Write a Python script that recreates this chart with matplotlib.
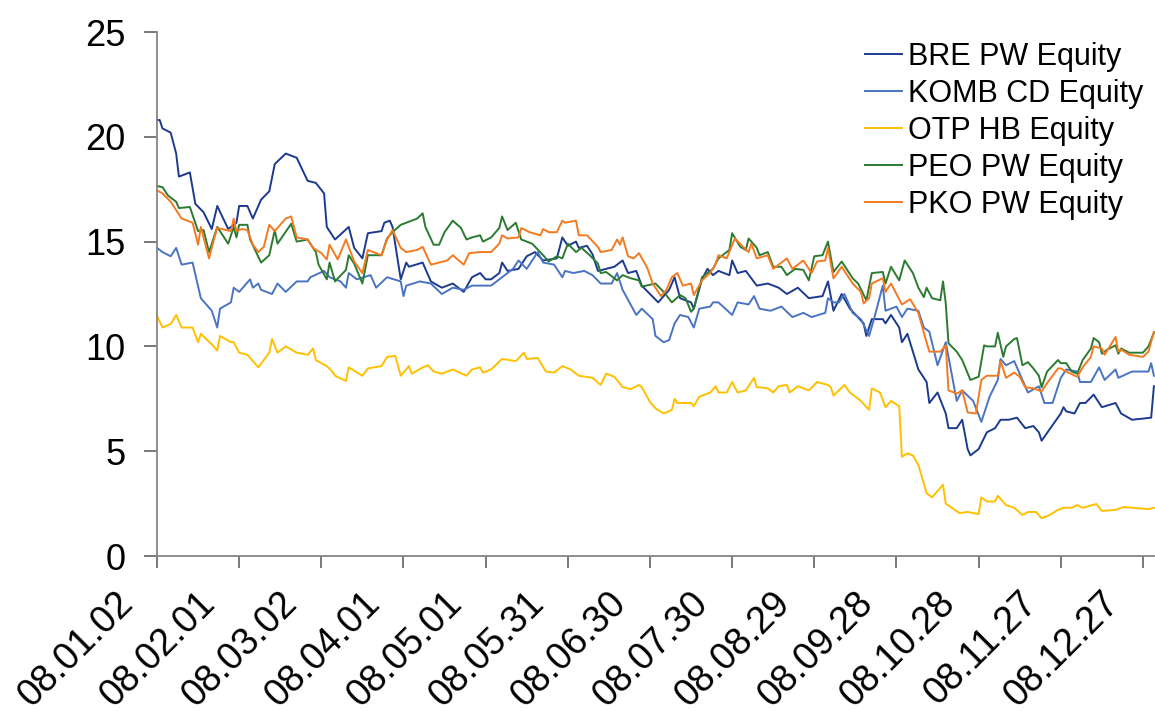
import matplotlib
matplotlib.use('Agg')
import matplotlib.pyplot as plt
import matplotlib.transforms as mtransforms

plt.rcParams['font.family'] = ['Liberation Sans', 'DejaVu Sans']

# 日数 (2008-01-02 からの経過日数) と値
bre_days = [0, 1, 2, 5, 7, 8, 12, 14, 17, 20, 22, 26, 29, 30, 33, 35, 38, 41, 43, 47,
            51, 55, 58, 61, 62, 65, 70, 72, 75, 77, 82, 83, 85, 86, 89, 91, 92, 97, 100, 104,
            108, 112, 115, 118, 120, 122, 125, 126, 128, 132, 135, 138, 141, 146, 148, 150, 153, 154, 157, 159,
            161, 164, 167, 170, 172, 175, 177, 180, 183, 185, 187, 189, 191, 195, 196, 199, 201, 203, 205, 209,
            210, 212, 215, 219, 223, 227, 230, 234, 238, 243, 245, 247, 250, 253, 258, 259, 261, 265, 266, 268,
            271, 272, 274, 278, 281, 282, 285, 288, 289, 292, 294, 296, 297, 300, 303, 306, 308, 311, 314, 317,
            320, 322, 323, 330, 331, 332, 335, 337, 339, 342, 345, 350, 352, 356, 363, 364]
bre_vals = [20.8, 20.8, 20.4, 20.2, 19.2, 18.1, 18.3, 16.8, 16.4, 15.6, 16.7, 15.6, 15.9, 16.7, 16.7, 16.1, 17.0, 17.4, 18.7, 19.2,
            19.0, 17.9, 17.8, 17.3, 15.7, 15.1, 15.7, 14.7, 14.2, 15.4, 15.5, 15.9, 16.0, 15.7, 13.2, 14.0, 13.8, 14.0, 13.1, 12.8,
            13.0, 12.6, 13.3, 13.5, 13.2, 13.2, 13.5, 14.0, 13.6, 13.7, 14.3, 14.5, 14.1, 14.2, 15.2, 14.8, 15.0, 14.7, 14.8, 14.4,
            13.6, 13.7, 13.8, 14.1, 13.5, 13.6, 12.9, 12.5, 12.1, 12.4, 12.7, 13.3, 12.3, 12.1, 11.8, 13.2, 13.7, 13.4, 13.6, 13.4,
            14.1, 13.5, 13.6, 12.9, 13.0, 12.8, 12.5, 12.8, 12.3, 12.4, 13.1, 11.7, 12.5, 11.8, 11.1, 10.5, 11.3, 11.3, 11.1, 11.5,
            10.9, 10.2, 10.6, 8.9, 8.3, 7.3, 7.8, 6.8, 6.1, 6.1, 6.5, 5.1, 4.8, 5.1, 5.9, 6.1, 6.5, 6.5, 6.6, 6.1,
            6.2, 5.9, 5.5, 6.8, 7.1, 6.9, 6.8, 7.3, 7.3, 7.7, 7.1, 7.3, 6.8, 6.5, 6.6, 8.1]

komb_days = [0, 2, 5, 7, 9, 13, 16, 20, 22, 23, 27, 28, 30, 34, 35, 37, 38, 42, 44, 47,
             51, 55, 56, 61, 63, 67, 69, 70, 73, 78, 80, 84, 89, 90, 91, 96, 100, 104, 108, 112,
             115, 122, 125, 130, 132, 135, 139, 141, 145, 148, 149, 152, 156, 159, 162, 166, 168, 170, 175, 177,
             181, 182, 185, 187, 189, 191, 194, 196, 198, 202, 203, 205, 210, 212, 216, 218, 220, 224, 228, 232,
             236, 239, 244, 245, 247, 249, 251, 254, 257, 260, 262, 265, 266, 268, 270, 272, 274, 278, 280, 282,
             285, 288, 292, 294, 298, 301, 304, 307, 308, 310, 313, 316, 318, 322, 324, 327, 330, 332, 336, 337,
             341, 344, 346, 350, 351, 356, 362, 363, 364]
komb_vals = [14.7, 14.5, 14.3, 14.7, 13.9, 14.0, 12.3, 11.7, 10.9, 11.8, 12.1, 12.8, 12.6, 13.2, 12.8, 13.0, 12.7, 12.5, 13.0, 12.6,
             13.1, 13.1, 13.3, 13.6, 13.3, 13.1, 12.8, 13.5, 13.2, 13.4, 12.8, 13.3, 13.1, 12.4, 12.9, 13.1, 13.0, 12.5, 12.8, 12.7,
             12.9, 12.9, 13.2, 13.7, 14.1, 13.7, 14.5, 14.0, 13.9, 13.3, 13.6, 13.5, 13.6, 13.4, 13.0, 13.0, 13.5, 12.7, 11.5, 11.8,
             11.3, 10.5, 10.2, 10.3, 11.1, 11.5, 11.4, 10.9, 11.8, 11.9, 12.1, 12.1, 11.5, 12.1, 12.0, 12.4, 11.8, 11.7, 11.9, 11.4,
             11.6, 11.4, 11.6, 12.3, 12.1, 12.1, 12.5, 11.6, 11.3, 10.5, 11.4, 12.9, 11.7, 11.8, 11.9, 11.4, 11.8, 11.7, 10.9, 10.7,
             9.1, 10.2, 7.4, 7.9, 7.4, 6.4, 7.6, 8.4, 9.4, 9.1, 9.3, 8.4, 7.8, 8.1, 7.3, 7.3, 8.5, 8.9, 8.8, 8.3,
             8.3, 9.0, 8.4, 8.9, 8.5, 8.8, 8.8, 9.2, 8.6]

otp_days = [0, 2, 5, 7, 9, 13, 15, 16, 20, 22, 23, 27, 28, 30, 33, 37, 41, 42, 44, 47,
            51, 55, 57, 58, 62, 64, 65, 69, 70, 75, 77, 82, 84, 87, 89, 92, 93, 97, 99, 101,
            104, 108, 113, 115, 118, 119, 122, 126, 131, 134, 135, 139, 142, 145, 148, 151, 154, 159, 162, 164,
            167, 170, 173, 176, 177, 180, 182, 185, 188, 189, 190, 195, 196, 198, 202, 204, 205, 208, 210, 212,
            215, 218, 219, 223, 225, 227, 230, 231, 234, 238, 241, 245, 246, 247, 251, 253, 257, 260, 261, 264,
            266, 268, 271, 272, 274, 276, 278, 281, 283, 287, 288, 293, 296, 300, 301, 303, 306, 307, 310, 313,
            316, 318, 321, 323, 326, 329, 331, 334, 336, 338, 343, 345, 350, 353, 356, 362, 364]
otp_vals = [11.45, 10.9, 11.07, 11.5, 10.9, 10.9, 10.2, 10.6, 10.1, 9.8, 10.5, 10.2, 10.2, 9.7, 9.6, 9.0, 9.7, 10.35, 9.7, 10.0,
            9.7, 9.6, 9.9, 9.35, 9.06, 8.8, 8.6, 8.35, 9.0, 8.6, 8.95, 9.06, 9.5, 9.55, 8.6, 9.06, 8.7, 9.0, 9.1, 8.8,
            8.7, 8.9, 8.6, 8.9, 9.0, 8.75, 8.9, 9.4, 9.3, 9.7, 9.4, 9.45, 8.8, 8.75, 9.06, 8.9, 8.6, 8.5, 8.16, 8.7,
            8.55, 8.06, 7.96, 8.16, 8.06, 7.35, 7.05, 6.8, 6.97, 7.5, 7.3, 7.3, 7.15, 7.6, 7.8, 8.1, 7.8, 7.8, 8.3, 7.8,
            7.9, 8.5, 8.06, 8.0, 7.8, 8.1, 8.16, 7.8, 8.1, 7.9, 8.3, 8.16, 8.06, 7.65, 8.16, 7.8, 7.4, 6.97, 8.0, 7.8,
            7.1, 7.4, 7.15, 4.73, 4.9, 4.8, 4.34, 3.0, 2.8, 3.4, 2.5, 2.05, 2.1, 2.0, 2.8, 2.6, 2.6, 2.87, 2.43, 2.3,
            1.96, 2.1, 2.1, 1.8, 1.96, 2.2, 2.3, 2.3, 2.43, 2.3, 2.48, 2.15, 2.2, 2.34, 2.3, 2.24, 2.3]

peo_days = [0, 2, 4, 6, 7, 8, 12, 15, 17, 19, 22, 26, 28, 29, 30, 33, 34, 38, 41, 43,
            44, 49, 51, 55, 58, 59, 62, 63, 65, 69, 70, 72, 75, 77, 82, 84, 86, 89, 92, 95,
            97, 98, 101, 103, 105, 108, 111, 113, 115, 118, 119, 122, 125, 126, 128, 131, 133, 137, 141, 143,
            146, 148, 150, 153, 155, 158, 161, 162, 164, 168, 170, 173, 176, 177, 182, 185, 188, 191, 193, 195,
            196, 199, 203, 205, 208, 209, 210, 213, 215, 216, 219, 220, 223, 225, 228, 230, 233, 236, 238, 240,
            243, 245, 247, 250, 254, 256, 259, 261, 265, 266, 268, 271, 273, 276, 278, 280, 281, 283, 286, 287,
            288, 289, 292, 294, 297, 300, 302, 303, 306, 307, 309, 310, 313, 314, 316, 318, 320, 322, 323, 325,
            329, 330, 332, 334, 336, 338, 341, 342, 344, 345, 347, 350, 351, 352, 355, 360, 362, 364]
peo_vals = [17.65, 17.6, 17.2, 17.0, 16.9, 16.6, 16.65, 15.5, 15.55, 14.5, 15.7, 14.9, 15.7, 15.2, 15.8, 15.8, 15.1, 14.0, 14.35, 15.55,
            14.9, 15.85, 15.0, 15.1, 14.5, 13.9, 13.2, 14.0, 13.1, 13.65, 14.35, 13.95, 13.0, 14.35, 14.35, 15.15, 15.45, 15.8, 15.95, 16.1,
            16.35, 15.7, 14.85, 14.85, 15.45, 16.0, 15.65, 15.1, 15.2, 15.3, 15.0, 15.2, 15.65, 16.2, 15.55, 15.9, 15.1, 14.9, 14.35, 14.05,
            14.3, 14.2, 14.9, 14.5, 14.7, 14.35, 13.95, 13.5, 13.55, 13.15, 13.4, 13.25, 13.15, 12.85, 13.0, 12.6, 12.1, 12.45, 12.3, 11.65,
            11.8, 13.3, 13.7, 14.2, 14.5, 14.6, 15.4, 14.75, 14.6, 15.15, 14.7, 14.35, 14.5, 13.8, 13.8, 13.4, 13.7, 13.65, 13.15, 14.3,
            14.35, 15.0, 13.55, 14.05, 13.25, 13.0, 12.2, 13.5, 13.55, 13.0, 13.8, 13.15, 14.1, 13.5, 12.8, 12.35, 12.8, 12.3, 12.2, 13.1,
            12.05, 10.15, 9.75, 9.35, 8.4, 8.55, 10.05, 10.0, 10.0, 10.65, 9.5, 10.0, 10.35, 10.4, 9.1, 9.25, 8.95, 8.6, 8.05, 8.8,
            9.35, 9.2, 9.2, 8.8, 8.7, 9.35, 9.9, 10.4, 10.2, 9.65, 9.85, 10.05, 9.65, 9.9, 9.7, 9.7, 10.0, 10.65]

pko_days = [0, 2, 5, 7, 9, 13, 15, 16, 19, 21, 22, 27, 28, 29, 31, 33, 35, 37, 39, 41,
            43, 47, 49, 51, 55, 57, 60, 61, 62, 63, 66, 69, 72, 75, 77, 82, 84, 86, 89, 91,
            95, 97, 100, 106, 108, 112, 114, 118, 122, 125, 126, 128, 132, 133, 136, 140, 141, 143, 146, 148,
            149, 153, 154, 157, 161, 162, 166, 168, 169, 170, 172, 174, 176, 179, 181, 184, 186, 188, 190, 192,
            195, 196, 199, 202, 204, 205, 208, 211, 214, 216, 217, 219, 223, 225, 230, 232, 236, 239, 241, 244,
            245, 247, 250, 254, 257, 258, 260, 261, 265, 266, 268, 272, 275, 278, 280, 282, 286, 288, 289, 292,
            294, 296, 299, 301, 303, 307, 308, 310, 313, 315, 317, 320, 323, 325, 329, 330, 332, 336, 338, 341,
            342, 345, 346, 350, 351, 352, 355, 360, 362, 364]
pko_vals = [17.45, 17.3, 16.9, 16.5, 16.1, 15.9, 14.85, 15.7, 14.2, 15.2, 15.65, 15.5, 16.1, 15.5, 15.6, 15.55, 14.85, 14.5, 14.75, 15.8,
            15.5, 16.1, 16.2, 15.2, 15.1, 14.7, 14.45, 14.3, 14.15, 14.85, 14.15, 15.1, 14.05, 13.5, 14.6, 14.35, 15.1, 15.55, 14.7, 14.5,
            14.6, 14.75, 13.9, 14.1, 14.35, 13.9, 14.45, 14.5, 14.5, 14.9, 15.3, 15.15, 15.2, 15.65, 15.45, 15.3, 15.6, 15.45, 15.45, 16.0,
            15.9, 16.0, 15.3, 15.3, 14.75, 14.5, 14.6, 15.1, 14.85, 15.2, 14.3, 14.2, 14.45, 13.75, 13.0, 12.4, 12.7, 13.3, 13.5, 12.9,
            13.0, 12.45, 13.15, 13.5, 13.95, 14.35, 14.2, 15.15, 14.75, 14.5, 14.9, 14.2, 14.35, 13.7, 14.2, 13.7, 14.1, 13.5, 14.05, 14.1,
            14.7, 13.25, 13.8, 13.0, 12.6, 12.05, 12.3, 13.0, 13.25, 12.6, 13.0, 12.0, 12.25, 11.6, 10.65, 9.75, 9.75, 10.05, 7.9, 7.75,
            7.9, 6.85, 6.8, 8.4, 8.6, 8.6, 9.3, 8.5, 8.75, 8.55, 8.05, 8.0, 7.85, 8.25, 8.95, 8.95, 8.8, 8.55, 9.0, 9.5,
            10.0, 9.9, 9.6, 10.45, 9.75, 9.85, 9.6, 9.5, 9.75, 10.7]

labels = ['BRE PW Equity', 'KOMB CD Equity', 'OTP HB Equity', 'PEO PW Equity', 'PKO PW Equity']
colors = ['#1c3a8e', '#4a74c2', '#ffc000', '#2b7b30', '#f47a22']

tick_days = [0, 30, 60, 90, 120, 150, 180, 210, 240, 270, 300, 330, 360]
tick_labels = ['08.01.02', '08.02.01', '08.03.02', '08.04.01', '08.05.01', '08.05.31', '08.06.30',
               '08.07.30', '08.08.29', '08.09.28', '08.10.28', '08.11.27', '08.12.27']

# プロットの作成
fig = plt.figure(figsize=(11.55, 7.11), dpi=100)
ax = fig.add_axes([157 / 1155, 1 - 556 / 711, 998 / 1155, 524 / 711])

series = [(bre_days, bre_vals), (komb_days, komb_vals), (otp_days, otp_vals),
          (peo_days, peo_vals), (pko_days, pko_vals)]
for (d, v), lab, col in zip(series, labels, colors):
    ax.plot(d, v, color=col, lw=1.4, label=lab, clip_on=False)

ax.set_xlim(0, 364.4)
ax.set_ylim(0, 25)
ax.set_yticks([0, 5, 10, 15, 20, 25])
ax.set_xticks(tick_days)
ax.set_xticklabels(tick_labels)

for side in ['top', 'right']:
    ax.spines[side].set_visible(False)
for side in ['left', 'bottom']:
    ax.spines[side].set_color('#868686')
    ax.spines[side].set_linewidth(1.3)

ax.tick_params(axis='y', direction='out', length=9.5, width=1.1, color='#555555', labelsize=26, pad=13)
ax.tick_params(axis='x', direction='out', length=8.6, width=1.1, color='#555555', labelsize=27, pad=12)

offset = mtransforms.ScaledTranslation(-42 / 100, 0, fig.dpi_scale_trans)
for t in ax.get_xticklabels():
    t.set_rotation(45)
    t.set_ha('right')
    t.set_va('top')
    t.set_rotation_mode('anchor')
    t.set_transform(t.get_transform() + offset)

# 凡例
ax.legend(loc='upper left', bbox_to_anchor=(865 / 1155, 1 - 42 / 711), bbox_transform=fig.transFigure,
          frameon=False, fontsize=22, borderpad=0, borderaxespad=0, handlelength=1.2,
          handletextpad=0.2, labelspacing=0.23)

fig.savefig('out.png', dpi=100)
